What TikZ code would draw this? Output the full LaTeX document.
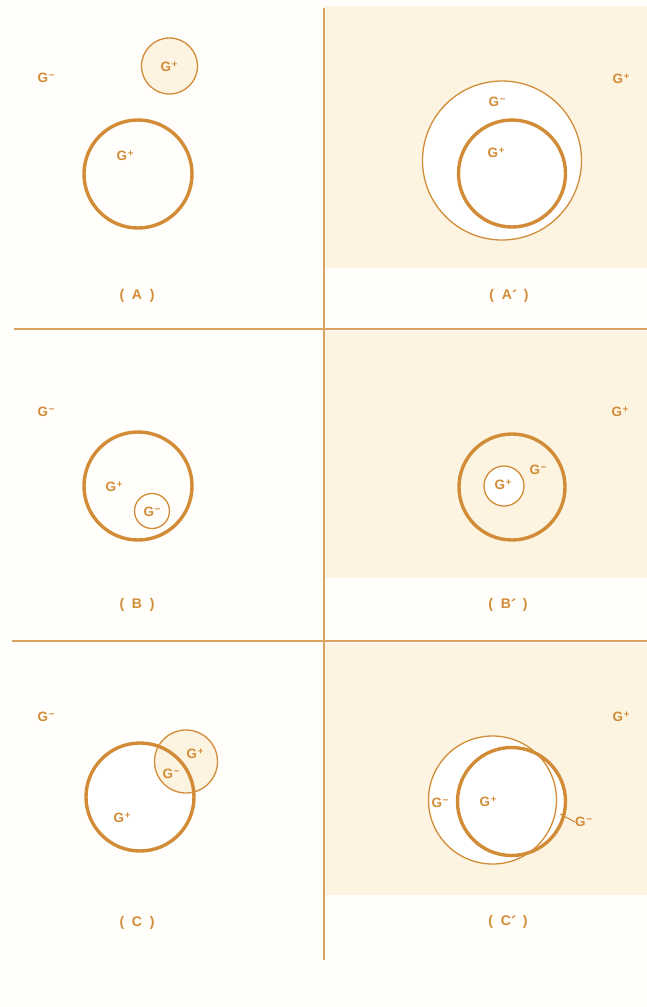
\documentclass[tikz,border=0pt]{standalone}
\usepackage{fontspec}
\setmainfont{Liberation Sans}
\definecolor{ink}{HTML}{D28C38}
\definecolor{rulec}{HTML}{D9A260}
\definecolor{beige}{HTML}{FCF4E1}
\definecolor{paper}{HTML}{FFFEFA}
\newcommand{\supsym}[1]{\hspace{0.8pt}\raisebox{3.8pt}{\fontsize{9.5}{9.5}\selectfont #1}}
\newcommand{\Gp}{G\supsym{+}}
\newcommand{\Gm}{G\supsym{\char"2212}}
\newcommand{\pr}{\raisebox{-3pt}{\fontsize{17}{17}\selectfont\char"00B4}}
\tikzset{
  lbl/.style={text=ink, font=\fontsize{13.5}{13.5}\selectfont\bfseries, inner sep=0pt},
  caplbl/.style={text=ink, font=\fontsize{14}{14}\selectfont\bfseries, inner sep=0pt},
  thickc/.style={circle, draw=ink, line width=3.4pt, inner sep=0pt},
  thinc/.style={circle, draw=ink, line width=1.3pt, inner sep=0pt},
  sepline/.style={draw=rulec, line width=1.8pt},
}
\begin{document}
\begin{tikzpicture}[x=1pt,y=-1pt]
\useasboundingbox (0,0) rectangle (647,1007);
\fill[paper] (0,0) rectangle (647,1007);
% shaded right panels
\fill[beige] (324,6) rectangle (647,268);
\fill[beige] (324,331) rectangle (647,578);
\fill[beige] (324,643) rectangle (647,895);
% separators
\coordinate (vt) at (324,8);
\coordinate (vb) at (324,960);
\coordinate (h1l) at (14,329);
\coordinate (h1r) at (647,329);
\coordinate (h2l) at (12,641);
\coordinate (h2r) at (647,641);
\draw[sepline] (vt) -- (vb);
\draw[sepline] (h1l) -- (h1r);
\draw[sepline] (h2l) -- (h2r);

% ---------- Panel A ----------
\node[thinc, fill=beige, minimum size=56pt] (a1) at (169.5,66) {};
\node[thickc, minimum size=108pt] (a2) at (138,174) {};
\node[lbl] (aGm) at (46,78) {\Gm};
\node[lbl] (aGp1) at (169,67) {\Gp};
\node[lbl] (aGp2) at (125,156) {\Gp};
\node[caplbl] (aCap) at (137,296) {(\hspace{0.55em}A\hspace{0.55em})};

% ---------- Panel A' ----------
\node[thinc, fill=white, minimum size=159pt] (ap1) at (502,160.5) {};
\node[thickc, fill=white, minimum size=107pt] (ap2) at (512,173.5) {};
\node[lbl] (apGp) at (621,79) {\Gp};
\node[lbl] (apGm) at (497,102) {\Gm};
\node[lbl] (apGp2) at (496,153) {\Gp};
\node[caplbl] (apCap) at (509,296) {(\hspace{0.55em}A\pr\hspace{0.45em})};

% ---------- Panel B ----------
\node[thickc, minimum size=108pt] (b1) at (138,486) {};
\node[thinc, minimum size=35pt] (b2) at (152,511) {};
\node[lbl] (bGm) at (46,412) {\Gm};
\node[lbl] (bGp) at (114,487) {\Gp};
\node[lbl] (bGm2) at (152,512) {\Gm};
\node[caplbl] (bCap) at (137,605) {(\hspace{0.55em}B\hspace{0.55em})};

% ---------- Panel B' ----------
\node[thickc, minimum size=106pt] (bp1) at (512,487) {};
\node[thinc, fill=white, minimum size=40pt] (bp2) at (504,486) {};
\node[lbl] (bpGp) at (620,412) {\Gp};
\node[lbl] (bpGp2) at (503,485) {\Gp};
\node[lbl] (bpGm) at (538,470) {\Gm};
\node[caplbl] (bpCap) at (508,605) {(\hspace{0.55em}B\pr\hspace{0.45em})};

% ---------- Panel C ----------
\node[circle, fill=white, minimum size=108pt, inner sep=0pt] (c1f) at (140,797) {};
\node[thinc, fill=beige, minimum size=63pt] (c2) at (186,761.5) {};
\node[thickc, minimum size=108pt] (c1) at (140,797) {};
\node[lbl] (cGm) at (46,717) {\Gm};
\node[lbl] (cGp) at (122,818) {\Gp};
\node[lbl] (cGp2) at (195,754) {\Gp};
\node[lbl] (cGm2) at (171,774) {\Gm};
\node[caplbl] (cCap) at (137,923) {(\hspace{0.55em}C\hspace{0.55em})};

% ---------- Panel C' ----------
\node[circle, fill=white, minimum size=128pt, inner sep=0pt] (cp1f) at (492.5,800) {};
\node[circle, fill=white, minimum size=108pt, inner sep=0pt] (cp2f) at (511.5,801.5) {};
\node[thinc, minimum size=128pt] (cp1) at (492.5,800) {};
\node[thickc, minimum size=108pt] (cp2) at (511.5,801.5) {};
\node[lbl] (cpGp) at (621,717) {\Gp};
\node[lbl] (cpGm1) at (440,803) {\Gm};
\node[lbl] (cpGp2) at (488,802) {\Gp};
\node[lbl, anchor=west] (cpGm2) at (575,822) {\Gm};
\coordinate (lead) at (560,814);
\draw[ink, line width=1pt] (lead) -- (cpGm2.west);
\node[caplbl] (cpCap) at (508,922) {(\hspace{0.55em}C\pr\hspace{0.45em})};
\end{tikzpicture}
\end{document}
